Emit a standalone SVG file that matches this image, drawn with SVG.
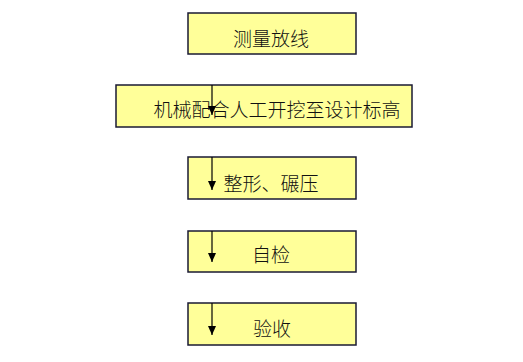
<svg xmlns="http://www.w3.org/2000/svg" width="523" height="362" viewBox="0 0 523 362">
<style>
.box{fill:#FFFF99;stroke:#1a1a33;stroke-width:1.5}
.t{font-family:"Noto Sans CJK SC","Noto Sans",sans-serif;font-size:19px;font-weight:300;fill:#111;text-anchor:middle}
.c{stroke:#000;stroke-width:1.2;fill:none}
</style>
<defs>
<marker id="ah" markerWidth="9" markerHeight="8" refX="9" refY="4" orient="auto" markerUnits="userSpaceOnUse" viewBox="0 0 9 8">
<path d="M0,0 L9,4 L0,8 Z" fill="#000"/>
</marker>
</defs>
<rect width="523" height="362" fill="#fff"/>
<g id="n1"><rect class="box" x="188" y="13" width="168" height="41"/><text class="t" x="271" y="46">测量放线</text></g>
<g id="n2"><rect class="box" x="116" y="85" width="296" height="42"/><text class="t" x="277" y="117">机械配合人工开挖至设计标高</text></g>
<g id="n3"><rect class="box" x="188" y="157" width="168" height="42"/><text class="t" x="271" y="191">整形、碾压</text></g>
<g id="n4"><rect class="box" x="188" y="231" width="168" height="41"/><text class="t" x="271" y="262">自检</text></g>
<g id="n5"><rect class="box" x="188" y="303" width="168" height="42"/><text class="t" x="272" y="336">验收</text></g>
<g id="connectors">
<line class="c" x1="212" y1="85" x2="212" y2="115" marker-end="url(#ah)"/>
<line class="c" x1="212" y1="157" x2="212" y2="190" marker-end="url(#ah)"/>
<line class="c" x1="212" y1="231" x2="212" y2="262" marker-end="url(#ah)"/>
<line class="c" x1="212" y1="303" x2="212" y2="335" marker-end="url(#ah)"/>
</g>
</svg>
